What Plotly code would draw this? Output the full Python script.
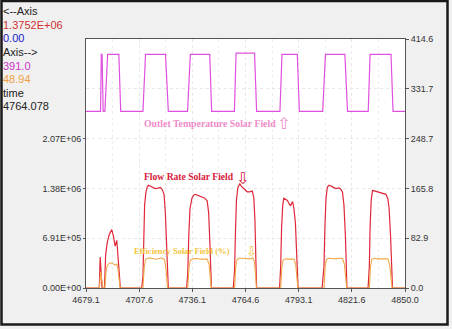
import plotly.graph_objects as go

# ---- data -------------------------------------------------------------
cursor_time = 4764.078

time_temp = [4679.1, 4686.9, 4687.3, 4687.7, 4688.3, 4689.2, 4690.7, 4696.7, 4697.7,
             4709.6, 4711.0, 4721.7, 4723.2,
             4733.5, 4735.0, 4745.4, 4746.4,
             4758.6, 4759.5, 4764.078, 4769.4, 4770.5,
             4783.0, 4784.1, 4792.3, 4793.4,
             4805.9, 4807.4, 4817.8, 4819.2,
             4830.3, 4831.3, 4842.5, 4843.6, 4850.0]
outlet_temp = [294.0, 294.0, 389.0, 389.0, 294.0, 294.0, 389.0, 389.0, 294.0,
               294.0, 389.0, 389.0, 294.0,
               294.0, 389.0, 389.0, 294.0,
               294.0, 391.0, 391.0, 391.0, 294.0,
               294.0, 389.0, 389.0, 294.0,
               294.0, 389.0, 389.0, 294.0,
               294.0, 389.0, 389.0, 294.0, 294.0]

time_flow = [4679.1, 4686.2, 4686.7, 4687.2, 4687.7, 4688.2, 4689.0, 4689.6, 4690.4, 4691.5,
             4692.9, 4693.8, 4694.7, 4695.6, 4696.1, 4696.8, 4697.5,
             4708.9, 4709.6, 4710.0, 4710.5, 4711.2, 4711.9, 4712.6, 4714.0, 4716.2, 4717.8,
             4718.9, 4719.9, 4720.9, 4721.6, 4722.3, 4722.8, 4723.2,
             4733.0, 4733.6, 4734.2, 4734.8, 4735.9, 4736.9, 4737.7, 4739.3, 4741.3, 4742.5,
             4744.0, 4744.8, 4745.5, 4746.0, 4746.3,
             4758.0, 4758.7, 4759.2, 4759.7, 4760.5, 4761.5, 4762.4, 4763.5, 4764.078, 4765.5,
             4766.7, 4768.2, 4769.0, 4769.6, 4770.1, 4770.5,
             4782.8, 4783.4, 4783.9, 4784.5, 4785.1, 4786.0, 4787.0, 4787.9, 4788.7, 4789.8,
             4790.5, 4791.3, 4792.0, 4792.7,
             4805.6, 4806.6, 4807.1, 4807.7, 4808.4, 4809.3, 4810.7, 4812.9, 4814.6, 4815.6,
             4816.5, 4817.3, 4818.1, 4818.6, 4818.9,
             4830.2, 4830.9, 4831.3, 4831.9, 4832.6, 4833.9, 4835.3, 4837.1, 4838.7, 4839.8,
             4840.8, 4841.5, 4842.3, 4842.8, 4843.3, 4850.0]
flow_rate = [0, 0, 430e3, 200e3, 0, 0, 0, 450e3, 620e3, 740e3,
             810e3, 720e3, 580e3, 660e3, 520e3, 250e3, 0,
             0, 150e3, 700e3, 1.15e6, 1.33e6, 1.40e6, 1.425e6, 1.41e6, 1.38e6, 1.385e6,
             1.395e6, 1.37e6, 1.30e6, 1.05e6, 550e3, 150e3, 0,
             0, 200e3, 750e3, 1.10e6, 1.25e6, 1.29e6, 1.30e6, 1.285e6, 1.265e6, 1.25e6,
             1.21e6, 1.05e6, 600e3, 150e3, 0,
             0, 250e3, 800e3, 1.22e6, 1.40e6, 1.445e6, 1.41e6, 1.385e6, 1.3752e6, 1.335e6,
             1.335e6, 1.345e6, 1.25e6, 950e3, 400e3, 0,
             0, 300e3, 850e3, 1.15e6, 1.245e6, 1.23e6, 1.215e6, 1.17e6, 1.14e6, 1.20e6,
             1.10e6, 900e3, 450e3, 0,
             0, 300e3, 850e3, 1.25e6, 1.40e6, 1.425e6, 1.41e6, 1.38e6, 1.39e6, 1.37e6,
             1.33e6, 1.15e6, 700e3, 200e3, 0,
             0, 300e3, 850e3, 1.22e6, 1.355e6, 1.345e6, 1.335e6, 1.315e6, 1.31e6, 1.30e6,
             1.24e6, 1.10e6, 700e3, 250e3, 0, 0]

time_eff = [4679.1, 4686.3, 4686.9, 4687.5, 4688.2, 4689.2, 4689.9, 4690.6, 4691.5, 4692.6,
            4693.8, 4694.8, 4695.6, 4696.3, 4697.0, 4697.4,
            4709.6, 4710.3, 4711.0, 4712.0, 4713.5, 4715.0, 4716.8, 4718.5, 4720.0, 4721.2,
            4722.0, 4722.8,
            4733.6, 4734.3, 4735.0, 4736.5, 4738.5, 4740.5, 4742.5, 4744.0, 4745.0, 4745.8,
            4746.2,
            4758.7, 4759.3, 4760.0, 4761.0, 4762.5, 4764.078, 4765.5, 4767.0, 4768.5, 4769.3,
            4770.0, 4770.4,
            4783.4, 4784.0, 4784.7, 4786.0, 4787.5, 4789.0, 4790.5, 4791.5, 4792.2, 4792.6,
            4806.6, 4807.2, 4807.9, 4809.0, 4811.0, 4813.0, 4815.0, 4816.5, 4817.5, 4818.3,
            4818.8,
            4830.9, 4831.5, 4832.2, 4833.5, 4835.5, 4837.5, 4839.5, 4840.8, 4841.8, 4842.6,
            4843.1, 4850.0]
efficiency = [0, 0, 27, 15, 0, 0, 30, 38, 41, 42,
              40, 38, 40, 30, 10, 0,
              0, 35, 47, 49.5, 50, 48.5, 48, 49.5, 50, 47,
              30, 0,
              0, 35, 46.5, 48.5, 49, 48, 48.5, 48, 40, 15,
              0,
              0, 35, 47, 49.5, 49.5, 48.94, 48, 48.5, 50, 44,
              20, 0,
              0, 35, 46.5, 48.5, 48, 47.5, 48, 38, 15, 0,
              0, 35, 47.5, 49.5, 49, 48.5, 49.5, 49, 40, 15,
              0,
              0, 35, 47.5, 49.5, 48.5, 48.5, 49.5, 48.5, 38, 12,
              0, 0]

x_range = [4679.1, 4850.0]
x_tick_labels = ["4679.1", "4707.6", "4736.1", "4764.6", "4793.1", "4821.6", "4850.0"]
left_range = [0, 3.4552e6]
left_tick_labels = ["0.00E+00", "6.91E+05", "1.38E+06", "2.07E+06"]
right_range = [0, 414.6]
right_tick_labels = ["0.0", "82.9", "165.8", "248.7", "331.7", "414.6"]

# ---- colours ----------------------------------------------------------
C_TEMP = "#e050e0"
C_FLOW = "#e0283a"
C_EFF = "#f0a848"

# ---- traces -----------------------------------------------------------
fig = go.Figure()
fig.add_trace(go.Scatter(x=time_eff, y=efficiency, mode="lines", yaxis="y2",
                         line=dict(color=C_EFF, width=1.1), name="Efficiency Solar Field (%)"))
fig.add_trace(go.Scatter(x=time_flow, y=flow_rate, mode="lines", yaxis="y",
                         line=dict(color=C_FLOW, width=1.2), name="Flow Rate Solar Field"))
fig.add_trace(go.Scatter(x=time_temp, y=outlet_temp, mode="lines", yaxis="y2",
                         line=dict(color=C_TEMP, width=1.2), name="Outlet Temperature Solar Field"))

# ---- layout geometry (pixels) -----------------------------------------
W, H = 452, 329
ML, MR, MT, MB = 86, 47, 39, 41
PW, PH = W - ML - MR, H - MT - MB


def px(x):
    return (x - ML) / PW


def py(y):
    return (H - MB - y) / PH


n_x = len(x_tick_labels) - 1
x_tick_vals = [x_range[0] + i * (x_range[1] - x_range[0]) / n_x for i in range(n_x + 1)]
n_r = len(right_tick_labels) - 1
right_tick_vals = [right_range[1] * i / n_r for i in range(n_r + 1)]
left_tick_vals = [left_range[1] * i / n_r for i in range(len(left_tick_labels))]

axis_font = dict(family="Liberation Sans, Arial", size=9, color="#333333")
grid = dict(showgrid=True, gridcolor="#e8e8e8", griddash="dot", gridwidth=1)

fig.update_layout(
    width=W, height=H,
    margin=dict(l=ML, r=MR, t=MT, b=MB),
    paper_bgcolor="#f0f0f0",
    plot_bgcolor="#ffffff",
    showlegend=False,
    xaxis=dict(range=x_range, tickvals=x_tick_vals, ticktext=x_tick_labels,
               ticks="outside", ticklen=3, tickcolor="#555", tickfont=axis_font,
               showline=True, linecolor="#555555", linewidth=1, mirror=True,
               zeroline=False,
               minor=dict(dtick=(x_range[1] - x_range[0]) / (2 * n_x), tick0=x_range[0],
                          showgrid=True, gridcolor="#eeeeee", griddash="dot"),
               **grid),
    yaxis=dict(range=left_range, tickvals=left_tick_vals, ticktext=left_tick_labels,
               ticks="outside", ticklen=2, tickcolor="#555", tickfont=axis_font,
               showline=True, linecolor="#555555", linewidth=1,
               zeroline=False, **grid),
    yaxis2=dict(range=right_range, tickvals=right_tick_vals, ticktext=right_tick_labels,
                overlaying="y", side="right",
                ticks="outside", ticklen=3, tickcolor="#555", tickfont=axis_font,
                showline=True, linecolor="#555555", linewidth=1,
                zeroline=False, showgrid=True, gridcolor="#e8e8e8", griddash="dot"),
)

# outer window frame
fig.add_shape(type="rect", xref="paper", yref="paper",
              x0=px(1.5), x1=px(447.5), y0=py(324.5), y1=py(1.0),
              line=dict(color="#1a1a1a", width=2.5), layer="above")

# ---- in-plot series labels --------------------------------------------
serif = "Liberation Serif, Times New Roman, serif"
labels = [
    ("Outlet Temperature Solar Field", "#ef8cc8", 210, 123.5, 9.8),
    ("Flow Rate Solar Field", "#d8203a", 189, 176.5, 9.6),
    ("Efficiency Solar Field (%)", "#f2c53c", 182, 250.5, 8.6),
]
for text, col, cx, cy, sz in labels:
    fig.add_annotation(text=f"<b>{text}</b>", xref="paper", yref="paper",
                       x=px(cx), y=py(cy), xanchor="center", yanchor="middle",
                       showarrow=False,
                       font=dict(family=serif, size=sz, color=col))

arrows = [
    ("\u21e7", "#ef8cc8", 283, 123, 16),
    ("\u21e9", "#d8203a", 242.5, 178.5, 16),
    ("\u21e9", "#f2c53c", 251, 251, 13),
]
for ch, col, cx, cy, sz in arrows:
    fig.add_annotation(text=ch, xref="paper", yref="paper", x=px(cx), y=py(cy),
                       xanchor="center", yanchor="middle",
                       showarrow=False, font=dict(family="DejaVu Sans", size=sz, color=col))

# ---- cursor readout panel ---------------------------------------------
def value_at(times, values, t):
    return values[times.index(t)]


flow_at = value_at(time_flow, flow_rate, cursor_time)
temp_at = value_at(time_temp, outlet_temp, cursor_time)
eff_at = value_at(time_eff, efficiency, cursor_time)

readout = [
    ("<--Axis", "#222222"),
    (f"{flow_at:.4E}", "#d03030"),
    ("0.00", "#1a1acc"),
    ("Axis-->", "#222222"),
    (f"{temp_at:.1f}", "#cc33cc"),
    (f"{eff_at:.2f}", "#f0a040"),
    ("time", "#222222"),
    (f"{cursor_time:.3f}", "#222222"),
]
for i, (txt, col) in enumerate(readout):
    fig.add_annotation(text=txt, xref="paper", yref="paper",
                       x=px(1.0), y=py(11.5 + i * 13.5), xanchor="left", yanchor="middle",
                       showarrow=False,
                       font=dict(family="Liberation Sans, Arial", size=11, color=col))

fig.write_html("out.html")
